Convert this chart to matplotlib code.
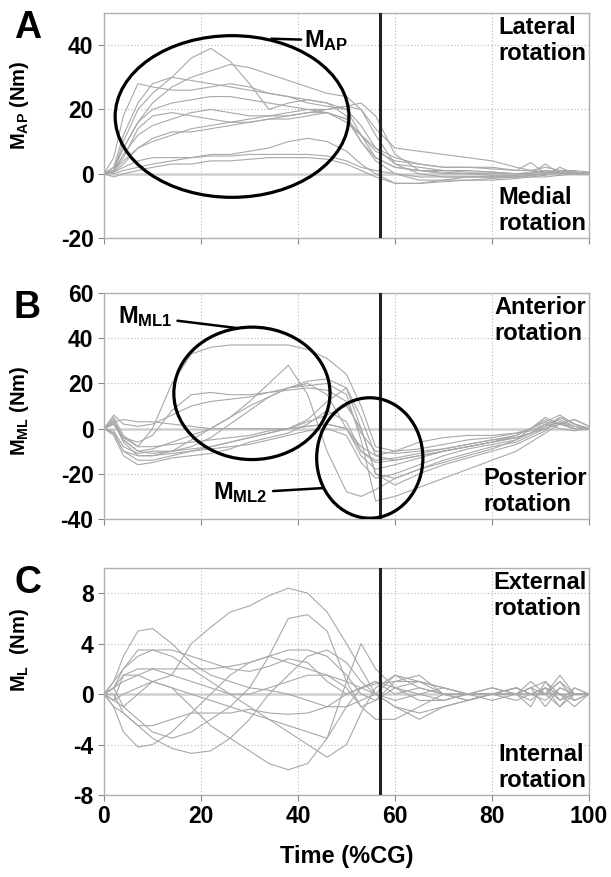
import matplotlib
matplotlib.use("Agg")
import matplotlib.pyplot as plt
from matplotlib.patches import Ellipse

plt.rcParams['font.family'] = ['Liberation Sans', 'DejaVu Sans']
plt.rcParams['font.weight'] = 'bold'
plt.rcParams['axes.unicode_minus'] = False
plt.rcParams['mathtext.fontset'] = 'custom'
plt.rcParams['mathtext.bf'] = 'Liberation Sans:bold'
plt.rcParams['mathtext.rm'] = 'Liberation Sans:bold'
plt.rcParams['mathtext.it'] = 'Liberation Sans:bold'

# ---------------- data ----------------
time_pct = [0, 2, 4, 7, 10, 14, 18, 22, 26, 30, 34, 38, 42, 46, 50, 53, 56,
            60, 65, 70, 75, 80, 85, 88, 91, 94, 97, 100]
toe_off = 57

m_ap = [
    [0, 1, 10, 20, 25, 30, 36, 39, 35, 28, 20, 22, 23, 22, 20, 12, 5, 2, 1, 1, 0.5, 0.5, 0, 0.5, 1, 0.5, 0, 0.5],
    [0, 1, 8, 16, 22, 27, 30, 32, 34, 33, 31, 29, 27, 25, 24, 20, 14, 8, 7, 6, 5, 4, 2, 1, 0.5, 0, 0.5, 0],
    [0, 2, 12, 22, 28, 30, 29, 28, 27, 26, 25, 24, 22, 21, 20, 15, 8, 3, 2, 1, 1, 0.5, 0, 0, 0.5, 1, 0, 0],
    [0, 5, 18, 28, 27, 26, 26, 27, 28, 27, 25, 24, 23, 22, 18, 10, 5, 2, 1, 0.5, 0, 0, 0, -0.5, 0, 1, 0.5, 0],
    [0, 1, 6, 12, 15, 17, 19, 20, 19, 18, 18, 18, 19, 20, 21, 20, 12, 3, 0, -1, -1, -1, -0.5, 0, 3, 0, 0.5, 0],
    [0, 1, 4, 8, 10, 12, 14, 15, 16, 17, 18, 19, 20, 20, 21, 22, 18, 6, 1, 0, 0, -0.5, -0.5, 0, 1, 0.5, 0, 0],
    [0, 0.5, 3, 8, 11, 13, 13, 14, 15, 16, 17, 17, 18, 19, 17, 10, 4, 0, -2, -2, -1, -1, -1, -0.5, 0, 0.5, 0, 0],
    [0, 0.5, 2, 4, 5, 5, 5, 6, 6, 7, 8, 10, 11, 10, 7, 3, 0, -3, -3, -2, -2, -1.5, -1, -1, -0.5, 2, 0, 0],
    [0, 0, 1, 2, 3, 4, 5, 5.5, 5.5, 6, 6, 6, 6, 5.5, 4, 2, 1, 0, -1, -1, -1, -1, -1, -0.5, 0, 0, 0, 0],
    [0, -1, 0, 1, 2, 3, 3, 4, 4, 4.5, 5, 5, 5, 4.5, 3, 1, -1, -3, -3, -2.5, -2, -2, -1.5, -1, -1, -0.5, 0, 0],
    [0, 1, 5, 14, 18, 19, 18, 17, 16, 16, 17, 18, 19, 19, 17, 12, 7, 4, 3, 2, 2, 1.5, 1, 3.5, 0, 0, 0.5, 0],
    [0, 2, 8, 16, 20, 22, 23, 24, 24, 23, 22, 21, 20, 19, 16, 12, 8, 5, 3, 2, 2, 2, 1, 1, 2, 1, 1, 0.5],
]

m_ml = [
    [0, 5, -3, -8, 0, 20, 33, 36, 37, 37, 37, 37, 35, 31, 24, 10, -8, -10, -9, -7, -5, -4, -2, 0, 3, 2, 0, 0],
    [0, 4, -5, -10, -9, -6, -3, 0, 5, 12, 20, 28, 15, -10, -28, -30, -27, -22, -18, -15, -12, -9, -5, 0, 4, 2, 0, 0],
    [0, 3, -6, -12, -12, -10, -5, 0, 5, 10, 14, 18, 21, 22, 18, 0, -20, -22, -18, -14, -11, -8, -6, -3, 0, 3, 1, 0],
    [0, 2, -5, -10, -11, -10, -8, -4, 2, 8, 14, 18, 20, 15, 0, -12, -18, -16, -13, -10, -8, -6, -3, 0, 5, 2, 0, 0],
    [0, 6, 2, 1, 2, 6, 10, 12, 13, 14, 16, 18, 19, 20, 15, -5, -32, -30, -26, -22, -18, -14, -10, -6, -2, 2, 4, 1],
    [0, 3, 4, 3, 3, 2, 1, 0, 0, 0, 0, 0, 1, 2, 0, -8, -12, -10, -6, -4, -3, -3, -2, -1, 2, 4, 1, 0],
    [0, -2, -10, -14, -14, -12, -10, -8, -6, -4, -2, 0, 3, 6, 10, 0, -20, -25, -20, -16, -13, -10, -7, -4, -1, 5, 2, 0],
    [0, -3, -12, -16, -15, -13, -12, -11, -9, -6, -4, -2, 2, 8, 3, -10, -15, -14, -12, -10, -8, -6, -4, -2, 1, 3, 0, 0],
    [0, -1, -8, -11, -10, -10, -9, -8, -6, -4, -2, 0, 4, 12, 18, 5, -12, -14, -12, -10, -8, -6, -4, -2, 2, 0, -1, 0],
    [0, 2, -4, -8, -8, -7, -6, -5, -4, -3, -1, 0, 1, 2, 0, -10, -14, -13, -11, -9, -7, -5, -3, 0, 3, 6, 2, 0],
    [0, -2, -10, -12, -12, -11, -10, -9, -8, -7, -5, -3, -1, 0, -3, -15, -22, -20, -16, -12, -9, -7, -5, -2, 0, 2, 4, 1],
    [0, 3, -4, -6, -3, 8, 15, 16, 15, 15, 16, 17, 18, 17, 12, -2, -10, -11, -10, -9, -7, -5, -4, -2, 1, 5, 2, 0],
]

m_l = [
    [0, -0.5, 0, 0.5, 1, 1.5, 4, 5.3, 6.5, 7, 7.8, 8.4, 8, 6.5, 4, 2, 0, -0.5, 0, 0.5, 0, -0.5, 0, 0.5, 1, -0.5, 0.5, 0],
    [0, 0.5, -1, -2, -3, -3.5, -3, -2, -1, 0.5, 3, 6, 6.3, 5, 1, -1, -0.5, 1, 1, 0.5, 0, 0, -0.5, 0, 0.5, -1, 0, 0],
    [0, 1, 3, 5, 5.2, 4, 2.5, 1.5, 1, 0.5, 0.3, 0, -0.5, -1, -1, -0.5, 0, 1.5, 0.5, 0, 0, 0.5, 0, -1, 1, 0, -0.5, 0],
    [0, -0.5, -1, 0, 1, 0.5, -1, -2.5, -3.5, -4.5, -5.5, -6, -5.5, -3.5, -1, 0.5, 1, 0.5, -0.5, -0.5, 0, 0, 0.5, 0, -0.5, 0.5, 0, 0],
    [0, -1, -3, -4.2, -4, -3, -1.5, 0, 1.5, 2.5, 3, 2.5, 2, 1.5, 1, 0.5, 0, -1, -1.5, -1, -0.5, 0, 0, 0.5, -1, 0.5, 0, 0],
    [0, 0, -1.5, -2.5, -3.5, -4.3, -4.7, -4.5, -3.5, -2, 0, 1.5, 3, 3.5, 2.5, 1, 0, -1, -2, -1, -0.5, 0, 0.5, 0, 0, 1, -0.5, 0],
    [0, 1, 2, 3.5, 3.5, 3, 2, 1, 0, -1, -2, -3, -4, -5, -4, -1.5, 0.5, 1.5, 1, 0, -0.5, 0, 0, 1, 0, -1, 0.5, 0],
    [0, 0.5, 2, 3, 3.5, 3.5, 3, 2.5, 2, 1.8, 2.2, 2.8, 2.5, 1, 0, 0.5, 1, 0, 0.5, 0, 0, 0, 0, 0.5, 0, 0, 0, 0],
    [0, 0.5, 1.5, 1.5, 1, 0.5, 0, -0.5, -1, -1.5, -2, -2.5, -3, -3.5, 1, 4, 2, 0.5, 0, -0.5, 0, 0, 0.5, 0, 0, 1.5, 0, 0],
    [0, 0.5, 1, 1.5, 2, 2, 2, 2, 2.2, 2.5, 3, 3.5, 3.5, 3, 1.5, 0, -0.5, 0.5, 1, 0.5, 0, 0, 0, 0, 0.5, -0.5, 0, 0],
    [0, -1, -1.5, -2.5, -2.5, -2, -1.5, -1.5, -1.5, -1.2, -1.5, -1.6, -1.5, -1, 0, 0.5, 0.8, 1, 1.5, 0, -0.5, 0, 0, -0.5, 0.5, 0, -1, 0],
    [0, -0.5, 1.5, 2, 2, 1.5, 1, 0.5, 0, 0, 0.5, 1, 1.5, 1.5, 0.5, -1, -2, -2, -1, 0, 0, 0.5, 0, 0, 0, 1, 0, 0],
]

x_ticks = [0, 20, 40, 60, 80, 100]
panels = [
    dict(data=m_ap, ylim=(-20, 50), yticks=[-20, 0, 20, 40], letter='A',
         ylabel=r'$\mathbf{M_{AP}}$ (Nm)', ylab_y=0.59,
         top_txt='Lateral\nrotation', bot_txt='Medial\nrotation'),
    dict(data=m_ml, ylim=(-40, 60), yticks=[-40, -20, 0, 20, 40, 60], letter='B',
         ylabel=r'$\mathbf{M_{ML}}$ (Nm)', ylab_y=0.48,
         top_txt='Anterior\nrotation', bot_txt='Posterior\nrotation'),
    dict(data=m_l, ylim=(-8, 10), yticks=[-8, -4, 0, 4, 8], letter='C',
         ylabel=r'$\mathbf{M_{L}}$  (Nm)', ylab_y=0.64,
         top_txt='External\nrotation', bot_txt='Internal\nrotation'),
]

W, H = 611, 877
fig = plt.figure(figsize=(W / 100, H / 100), dpi=100)
boxes = [(13, 238), (293, 519), (568, 795)]
left_px, right_px = 104, 589

grey = '#a8a8a8'
axes = []
for p, (top, bot) in zip(panels, boxes):
    ax = fig.add_axes([left_px / W, 1 - bot / H, (right_px - left_px) / W, (bot - top) / H])
    axes.append(ax)
    ax.set_xlim(0, 100)
    ax.set_ylim(*p['ylim'])
    ax.set_xticks(x_ticks)
    ax.set_yticks(p['yticks'])
    ax.grid(True, color='#b8b8b8', linestyle=(0, (1, 2)), linewidth=0.8)
    ax.set_axisbelow(True)
    ax.axhline(0, color='#cfcfcf', lw=1.8, zorder=1)
    for curve in p['data']:
        ax.plot(time_pct, curve, color=grey, lw=0.8, zorder=2)
    ax.axvline(toe_off, color='#222222', lw=2.2, zorder=4)
    for s in ax.spines.values():
        s.set_color('#b0b0b0')
        s.set_linewidth(1.0)
    ax.tick_params(axis='both', colors='#888888', labelcolor='black',
                   labelsize=16.5, length=4, width=0.8, direction='out')
    for lab in ax.get_yticklabels() + ax.get_xticklabels():
        lab.set_fontweight('bold')
    ax.set_ylabel(p['ylabel'], fontsize=14.5, fontweight='bold')
    ax.yaxis.set_label_coords(-0.15, p['ylab_y'])
    ax.text(0.995, 0.985, p['top_txt'], transform=ax.transAxes, ha='right', va='top',
            multialignment='left', fontsize=17, fontweight='bold', linespacing=1.15, zorder=6)
    ax.text(0.995, 0.015, p['bot_txt'], transform=ax.transAxes, ha='right', va='bottom',
            multialignment='left', fontsize=17, fontweight='bold', linespacing=1.15, zorder=6)
    fig.text(14 / W, 1 - (top - 3) / H, p['letter'], fontsize=27, fontweight='bold',
             va='top', ha='left')

for ax in axes[:2]:
    ax.tick_params(axis='x', labelbottom=False)
axes[2].set_xlabel('Time (%CG)', fontsize=17, fontweight='bold', labelpad=12)

# ellipses and annotations
axA, axB, axC = axes
axA.add_patch(Ellipse((26.4, 17.8), 48.2, 50.3, fill=False, ec='black', lw=2.3, zorder=5))
axA.annotate(r'$\mathbf{M_{AP}}$', xy=(34.5, 42.0), xytext=(41.2, 41.5),
             fontsize=17, va='center', ha='left',
             arrowprops=dict(arrowstyle='-', lw=1.8, color='black', shrinkA=0, shrinkB=0))

axB.add_patch(Ellipse((30.5, 15.6), 32.2, 58.6, fill=False, ec='black', lw=2.3, zorder=5))
axB.add_patch(Ellipse((54.8, -13.0), 21.9, 53.3, fill=False, ec='black', lw=2.3, zorder=5))
axB.annotate(r'$\mathbf{M_{ML1}}$', xy=(27.4, 44.5), xytext=(2.8, 49.5),
             fontsize=17, va='center', ha='left',
             arrowprops=dict(arrowstyle='-', lw=1.8, color='black', shrinkA=2, shrinkB=0))
axB.annotate(r'$\mathbf{M_{ML2}}$', xy=(45.3, -26.3), xytext=(22.5, -28.5),
             fontsize=17, va='center', ha='left',
             arrowprops=dict(arrowstyle='-', lw=1.8, color='black', shrinkA=2, shrinkB=0))

fig.savefig('out.png', dpi=100)
